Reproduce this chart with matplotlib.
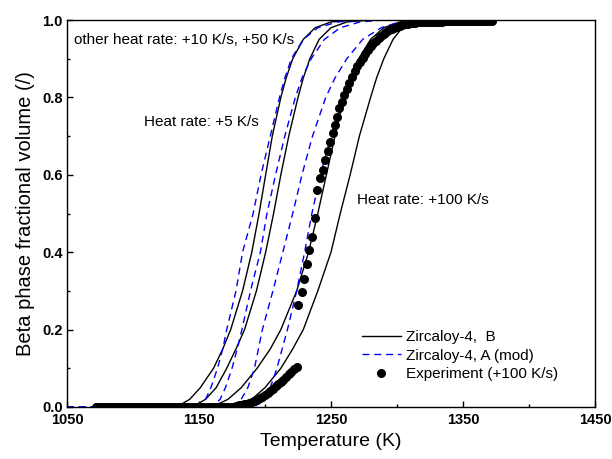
import numpy as np
import matplotlib
matplotlib.use("Agg")
import matplotlib.pyplot as plt
from matplotlib.ticker import MultipleLocator, FormatStrFormatter

plt.rcParams['font.family'] = ['Liberation Sans', 'DejaVu Sans']

levels = [0.0, 0.02, 0.05, 0.1, 0.15, 0.2, 0.3, 0.4, 0.5, 0.6, 0.7, 0.8, 0.85, 0.9, 0.95, 0.98, 0.995, 1.0]

# Zircaloy-4, B (solid black) for +5, +10, +50, +100 K/s
b_5 = [1133, 1143, 1151, 1161, 1168, 1174, 1183, 1190, 1195.5, 1200.5, 1205.5, 1212, 1216, 1221, 1229, 1238, 1250, 1268]
b_10 = [1145, 1155, 1163, 1171, 1178, 1184.5, 1193.5, 1200.5, 1206.5, 1212, 1218, 1225, 1229, 1234, 1241, 1250, 1262, 1280]
b_50 = [1160, 1172, 1182, 1194, 1204, 1212, 1224, 1233, 1240, 1246.5, 1253, 1260, 1265, 1271, 1280, 1290, 1302, 1320]
b_100 = [1176, 1190, 1200, 1212, 1221, 1229, 1240, 1250, 1257, 1264.5, 1271.5, 1280, 1284.5, 1290, 1297, 1304, 1313, 1325]

# Zircaloy-4, A (mod) (dashed blue)
a_5 = [1150, 1155, 1159, 1164, 1168, 1171, 1178, 1183, 1191, 1197, 1204, 1211, 1215, 1220, 1229, 1240, 1255, 1275]
a_10 = [1160, 1166, 1170, 1175, 1179, 1182.5, 1189, 1196.5, 1201.5, 1208, 1215, 1223, 1228, 1235, 1245, 1257, 1272, 1290]
a_50 = [1175, 1182, 1187, 1192, 1195, 1198, 1206, 1213.5, 1221, 1228, 1236, 1246, 1253, 1262, 1274, 1288, 1302, 1320]
a_100 = [1192, 1199, 1204, 1209, 1213, 1217, 1224, 1230, 1235.5, 1242, 1250, 1260, 1267, 1276, 1289, 1301, 1313, 1330]

# Experiment (+100 K/s): dense baseline, sparse middle, dense top
exp_t = [1072, 1074, 1076, 1078, 1080, 1082, 1084, 1086, 1088, 1090, 1092, 1094, 1096, 1098,
         1100, 1102, 1104, 1106, 1108, 1110, 1112, 1114, 1116, 1118, 1120, 1122, 1124, 1126,
         1128, 1130, 1132, 1134, 1136, 1138, 1140, 1142, 1144, 1146, 1148, 1150, 1152, 1154,
         1156, 1158, 1160, 1162, 1164, 1166, 1168, 1170, 1172, 1174, 1176, 1178,
         1180, 1182, 1184, 1186, 1188, 1190, 1192, 1194, 1196, 1198, 1200, 1202, 1204, 1206,
         1208, 1210, 1212, 1214, 1216, 1218, 1220, 1222, 1224,
         1225.2, 1227.8, 1229.5, 1231.6, 1233.6, 1235.4, 1237.9, 1239.6, 1241.7, 1243.7,
         1245.5, 1247.5, 1249.2, 1251.3, 1253, 1254.3, 1256.3, 1258.1,
         1260, 1262, 1264, 1266, 1268, 1270, 1272, 1274, 1276, 1278, 1280, 1282, 1284, 1286,
         1288, 1290, 1292, 1294, 1296, 1298, 1300, 1302, 1304, 1306, 1308, 1310, 1312, 1314,
         1316, 1318, 1320, 1322, 1324, 1326, 1328, 1330, 1332, 1334, 1336, 1338, 1340, 1342,
         1344, 1346, 1348, 1350, 1352, 1354, 1356, 1358, 1360, 1362, 1364, 1366, 1368, 1370, 1372]
exp_v = [0, 0, 0, 0, 0, 0, 0, 0, 0, 0, 0, 0, 0, 0,
         0, 0, 0, 0, 0, 0, 0, 0, 0, 0, 0, 0, 0, 0,
         0, 0, 0, 0, 0, 0, 0, 0, 0, 0, 0, 0, 0, 0,
         0, 0, 0, 0, 0, 0, 0, 0, 0, 0, 0, 0.002,
         0.004, 0.005, 0.007, 0.009, 0.011, 0.013, 0.016, 0.019, 0.023, 0.027, 0.032, 0.037, 0.042, 0.047,
         0.053, 0.059, 0.065, 0.071, 0.078, 0.084, 0.091, 0.098, 0.104,
         0.264, 0.296, 0.331, 0.369, 0.406, 0.44, 0.488, 0.562, 0.591, 0.612,
         0.638, 0.661, 0.686, 0.707, 0.729, 0.75, 0.772, 0.789,
         0.805, 0.822, 0.838, 0.853, 0.867, 0.88, 0.892, 0.903, 0.913, 0.923, 0.932, 0.94, 0.947, 0.953,
         0.959, 0.964, 0.969, 0.973, 0.977, 0.98, 0.983, 0.985, 0.987, 0.989, 0.99, 0.991, 0.992, 0.993,
         0.994, 0.994, 0.995, 0.995, 0.996, 0.996, 0.996, 0.996, 0.996, 0.996, 0.997, 0.997, 0.997, 0.997,
         0.997, 0.997, 0.997, 0.997, 0.997, 0.997, 0.997, 0.997, 0.997, 0.997, 0.997, 0.997, 0.997, 0.997, 0.997]

x_ticks = [1050, 1150, 1250, 1350, 1450]
x_minor = [1100, 1200, 1300, 1400]

fig = plt.figure(figsize=(6.12, 4.59), dpi=100)
ax = fig.add_axes([0.1095, 0.1133, 0.8627, 0.8431])

# solid curves run from 1072 K to 1375 K, dashed ones across the whole axis
for i, t in enumerate([b_5, b_10, b_50, b_100]):
    ax.plot([1072] + t + [1375], [0.0] + levels + [1.0], color='black', lw=1.0,
            label='Zircaloy-4,  B' if i == 0 else None)
for i, t in enumerate([a_5, a_10, a_50, a_100]):
    ax.plot([1050] + t + [1450], [0.0] + levels + [1.0], color='#0000ff', lw=1.0,
            ls=(0, (5, 3.5)), label='Zircaloy-4, A (mod)' if i == 0 else None)
ax.plot(exp_t, exp_v, 'o', color='black', ms=6.5, mew=0, label='Experiment (+100 K/s)')

ax.set_xlim(1050, 1450)
ax.set_ylim(0, 1.0)
ax.set_xticks(x_ticks)
ax.set_xticks(x_minor, minor=True)
ax.yaxis.set_major_locator(MultipleLocator(0.2))
ax.yaxis.set_minor_locator(MultipleLocator(0.1))
ax.yaxis.set_major_formatter(FormatStrFormatter('%.1f'))
ax.tick_params(which='both', direction='in', top=False, right=False)
ax.tick_params(which='major', length=4, width=1, labelsize=10.5, pad=3)
ax.tick_params(axis='x', which='major', pad=4.5)
ax.tick_params(which='minor', length=2.2, width=1)
for lab in ax.get_xticklabels() + ax.get_yticklabels():
    lab.set_fontweight('bold')
for sp in ax.spines.values():
    sp.set_linewidth(1.0)

ax.set_xlabel('Temperature (K)', fontsize=14, labelpad=4)
ax.set_ylabel('Beta phase fractional volume (/)', fontsize=14.5, labelpad=5)

ax.text(1055.3, 0.948, 'other heat rate: +10 K/s, +50 K/s', fontsize=11, ha='left', va='center')
ax.text(1108.3, 0.736, 'Heat rate: +5 K/s', fontsize=11, ha='left', va='center')
ax.text(1269.7, 0.535, 'Heat rate: +100 K/s', fontsize=11, ha='left', va='center')

ax.legend(loc='upper left', bbox_to_anchor=(0.5587, 0.199), frameon=False, fontsize=11,
          borderpad=0, borderaxespad=0, handlelength=2.55, handletextpad=0.33,
          labelspacing=0.31, numpoints=1)

fig.savefig('out.png', dpi=100)
